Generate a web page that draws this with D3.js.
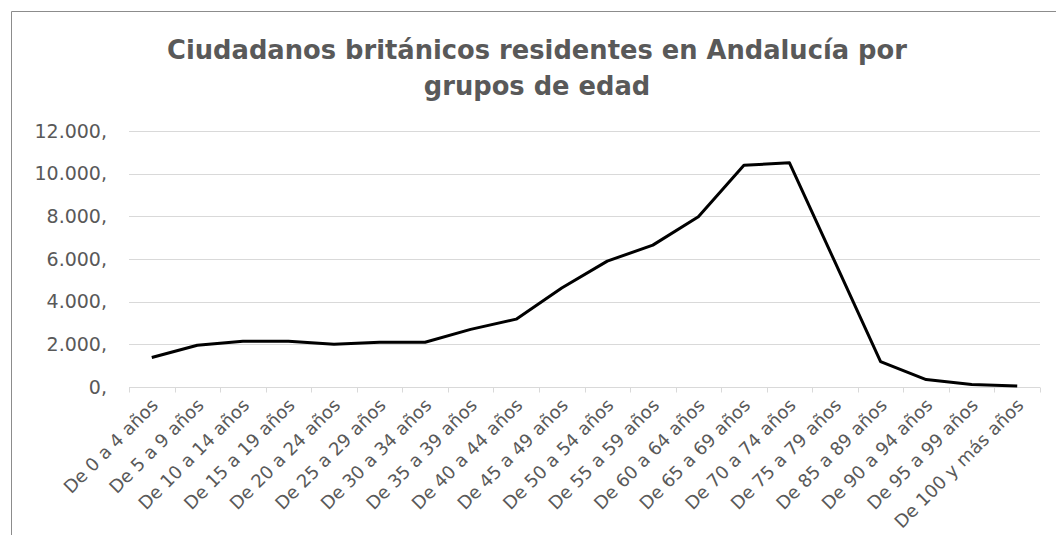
<!DOCTYPE html>
<html>
<head>
<meta charset="utf-8">
<script src="https://cdn.jsdelivr.net/npm/d3@7"></script>
<style>
  body { margin: 0; background: #fff; }
  svg { display: block; }
</style>
</head>
<body>
<div id="chart"></div>
<script>
const categories = ['De 0 a 4 años', 'De 5 a 9 años', 'De 10 a 14 años', 'De 15 a 19 años',
  'De 20 a 24 años', 'De 25 a 29 años', 'De 30 a 34 años', 'De 35 a 39 años',
  'De 40 a 44 años', 'De 45 a 49 años', 'De 50 a 54 años', 'De 55 a 59 años',
  'De 60 a 64 años', 'De 65 a 69 años', 'De 70 a 74 años', 'De 75 a 79 años',
  'De 85 a 89 años', 'De 90 a 94 años', 'De 95 a 99 años', 'De 100 y más años'];
const residents = [1380, 1960, 2150, 2150, 2000, 2100, 2100, 2700, 3180, 4640,
  5900, 6650, 7980, 10390, 10510, 5850, 1190, 350, 120, 50];
const yTicks = [0, 2000, 4000, 6000, 8000, 10000, 12000];
const titleLines = ['Ciudadanos británicos residentes en Andalucía por', 'grupos de edad'];

const width = 1056, height = 535;
const svg = d3.select('#chart').append('svg')
  .attr('width', width)
  .attr('height', height);

// chart frame (cropped on right and bottom)
svg.append('path')
  .attr('d', 'M11.5,' + height + 'V11.5H' + width)
  .attr('fill', 'none')
  .attr('stroke', '#8c8c8c')
  .attr('stroke-width', 1);

const x = d3.scaleBand()
  .domain(categories)
  .range([129, 1040]);

const y = d3.scaleLinear()
  .domain([0, 12000])
  .range([387, 131]);

// gridlines
svg.append('g')
  .selectAll('line')
  .data(yTicks.slice(1))
  .enter()
  .append('line')
  .attr('x1', x.range()[0])
  .attr('x2', x.range()[1])
  .attr('y1', (d) => Math.round(y(d)) + 0.5)
  .attr('y2', (d) => Math.round(y(d)) + 0.5)
  .attr('stroke', '#d9d9d9')
  .attr('stroke-width', 1);

// y labels
const fmt = (d) => d3.format(',')(d).replace(/,/g, '.') + ',';
svg.append('g')
  .selectAll('text')
  .data(yTicks)
  .enter()
  .append('text')
  .attr('x', 107)
  .attr('y', (d) => y(d))
  .attr('dy', '0.35em')
  .attr('text-anchor', 'end')
  .attr('fill', '#595959')
  .style('font-family', '"DejaVu Sans", sans-serif')
  .style('font-size', '19px')
  .text(fmt);

// x axis line and ticks
const axisY = Math.round(y(0)) + 0.5;
svg.append('line')
  .attr('x1', x.range()[0])
  .attr('x2', x.range()[1])
  .attr('y1', axisY)
  .attr('y2', axisY)
  .attr('stroke', '#d9d9d9')
  .attr('stroke-width', 1);

const tickPos = categories.map((c) => x(c)).concat([x.range()[1]]);
svg.append('g')
  .selectAll('line')
  .data(tickPos)
  .enter()
  .append('line')
  .attr('x1', (d) => Math.round(d) + 0.5)
  .attr('x2', (d) => Math.round(d) + 0.5)
  .attr('y1', axisY)
  .attr('y2', axisY + 5)
  .attr('stroke', '#d9d9d9')
  .attr('stroke-width', 1);

// x labels, rotated
svg.append('g')
  .selectAll('text')
  .data(categories)
  .enter()
  .append('text')
  .attr('transform', (d) => {
    let cx = x(d) + x.bandwidth() / 2 + 3;
    return 'translate(' + cx + ',' + 402 + ') rotate(-45)';
  })
  .attr('text-anchor', 'end')
  .attr('dy', '0.35em')
  .attr('fill', '#595959')
  .style('font-family', '"DejaVu Sans", sans-serif')
  .style('font-size', '18px')
  .text((d) => d);

// the line
const line = d3.line()
  .x((d, i) => x(categories[i]) + x.bandwidth() / 2)
  .y((d) => y(d));

svg.append('path')
  .datum(residents)
  .attr('d', line)
  .attr('fill', 'none')
  .attr('stroke', '#000')
  .attr('stroke-width', 3)
  .attr('stroke-linejoin', 'round');

// title, sized so the first line spans the same width as the original
const title = svg.append('g')
  .selectAll('text')
  .data(titleLines)
  .enter()
  .append('text')
  .attr('x', 537)
  .attr('y', (d, i) => 59 + i * 36)
  .attr('text-anchor', 'middle')
  .attr('fill', '#595959')
  .style('font-family', '"DejaVu Sans", sans-serif')
  .style('font-weight', 'bold')
  .style('font-size', '24px')
  .text((d) => d);

let w0 = title.nodes()[0].getComputedTextLength();
title.style('font-size', (24 * 740 / w0).toFixed(2) + 'px');
</script>
</body>
</html>
